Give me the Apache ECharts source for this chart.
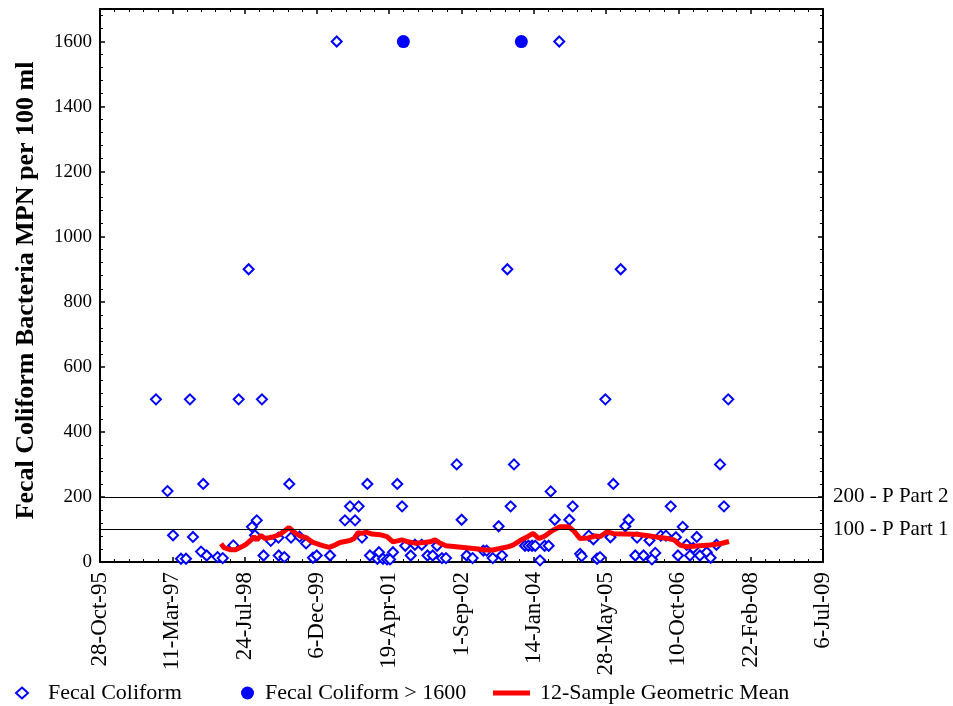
<!DOCTYPE html>
<html><head><meta charset="utf-8">
<script src="https://cdn.jsdelivr.net/npm/echarts@6/dist/echarts.min.js"></script>
<style>html,body{margin:0;padding:0;background:#fff}#c{width:953px;height:706px}</style>
</head><body><div id="c"></div><script>
// ---------- data ----------
const startDate = '1995-10-28';
const xTickLabels = ['28-Oct-95','11-Mar-97','24-Jul-98','6-Dec-99','19-Apr-01','1-Sep-02','14-Jan-04','28-May-05','10-Oct-06','22-Feb-08','6-Jul-09'];
const yTickValues = [0,200,400,600,800,1000,1200,1400,1600];

const fcDates = ['1996-11-18','1997-02-06','1997-03-16','1997-05-10','1997-06-14','1997-07-11','1997-08-01','1997-09-26','1997-10-11','1997-11-04',
'1998-01-18','1998-02-23','1998-05-07','1998-06-13','1998-08-21','1998-09-13','1998-10-04','1998-10-16','1998-11-21','1998-12-02',
'1999-01-21','1999-03-15','1999-03-17','1999-04-25','1999-05-29','1999-06-10','1999-08-08','1999-09-22','1999-11-09','1999-12-05',
'2000-03-06','2000-04-21','2000-06-17','2000-07-22','2000-08-26','2000-09-20','2000-10-13','2000-11-19','2000-12-07',
'2001-01-27','2001-02-07','2001-03-07','2001-04-04','2001-04-25','2001-05-15','2001-06-14','2001-07-17','2001-08-08','2001-09-15','2001-10-14','2001-11-30',
'2002-01-09','2002-02-14','2002-03-16','2002-04-19','2002-05-17','2002-07-30','2002-09-02','2002-10-07','2002-11-17',
'2003-01-30','2003-02-22','2003-04-05','2003-05-16','2003-06-08','2003-07-15','2003-08-07','2003-08-30','2003-11-14','2003-12-08',
'2004-01-02','2004-01-24','2004-02-26','2004-03-29','2004-04-26','2004-05-10','2004-06-07','2004-07-08','2004-09-16','2004-10-09','2004-11-29','2004-12-10',
'2005-01-28','2005-03-01','2005-03-26','2005-04-16','2005-05-23','2005-06-27','2005-07-17','2005-09-06','2005-10-08','2005-10-31','2005-12-16','2005-12-28',
'2006-02-11','2006-03-24','2006-04-10','2006-05-03','2006-06-10','2006-07-16','2006-08-18','2006-09-23','2006-10-07','2006-11-09','2006-12-06','2006-12-29',
'2007-01-21','2007-02-14','2007-03-08','2007-04-24','2007-05-21','2007-06-30','2007-07-25','2007-08-21','2007-09-20'];
const fcValues = [500,218,82,10,10,500,77,32,240,20,
15,12,51,500,900,108,82,128,500,20,
65,75,20,15,240,75,78,57,13,20,
20,1600,128,171,128,171,75,240,20,
10,30,10,8,8,30,240,171,50,20,53,53,
20,20,50,12,12,300,130,20,12,
35,35,12,110,20,900,171,300,50,50,
50,50,5,50,50,217,130,1600,130,171,25,18,
81,70,10,15,500,76,240,900,110,130,20,75,
20,66,8,28,81,81,171,76,20,108,53,20,
43,77,20,30,13,53,300,171,500];

const highDates = ['2001-07-26','2003-10-20'];
const highValues = [1600,1600];

const gmDates = ['1998-02-11','1998-03-04','1998-04-14','1998-05-26','1998-07-27','1998-09-13','1998-09-27','1998-10-18','1998-11-14','1998-12-12',
'1999-01-30','1999-03-26','1999-05-27','1999-07-01','1999-08-11','1999-09-22','1999-11-09','2000-01-03','2000-02-28','2000-04-09',
'2000-05-14','2000-07-22','2000-08-19','2000-09-15','2000-10-13','2000-11-10','2000-12-21','2001-02-14','2001-04-04','2001-05-15',
'2001-07-17','2001-08-27','2001-10-14','2001-12-16','2002-01-26','2002-03-02','2002-04-05','2002-05-17','2002-07-25','2002-10-02',
'2002-12-24','2003-02-17','2003-04-07','2003-05-25','2003-07-13','2003-08-23','2003-10-11','2003-11-21','2004-01-09','2004-02-19',
'2004-03-31','2004-05-19','2004-07-13','2004-09-13','2004-10-18','2004-11-29','2005-01-23','2005-03-19','2005-04-16','2005-05-13',
'2005-06-03','2005-07-17','2005-10-06','2005-12-28','2006-03-27','2006-06-05','2006-07-30','2006-09-10','2006-10-21','2006-12-09',
'2007-03-08','2007-05-17','2007-07-25','2007-09-25'];
const gmValues = [56,44,38,38,52,70,78,68,82,72,
76,85,106,92,80,75,60,52,45,52,
60,66,72,90,88,92,86,84,78,62,
68,62,58,60,62,68,58,50,47,44,
40,37,37,42,46,52,66,75,88,72,
80,96,108,108,95,72,74,80,78,86,
93,87,86,85,80,75,72,68,52,47,
50,52,56,63];

const refValues = [200, 100];
const refLabels = ['200 - P Part 2', '100 - P Part 1'];

// ---------- helpers ----------
function utc(s){ const p = s.split('-').map(Number); return Date.UTC(p[0], p[1]-1, p[2]); }
const t0 = utc(startDate);
function dayOf(s){ return Math.round((utc(s) - t0) / 86400000); }
function pairs(dates, vals){ return dates.map((d,i) => [dayOf(d), vals[i]]); }

const FONT = 'Liberation Serif';
const xMax = (xTickLabels.length - 1) * 500;

const tickCommon = { show:true, inside:true, length:5, lineStyle:{color:'#000', width:1.5} };
const minorCommon = { show:true, splitNumber:5, length:3, lineStyle:{color:'#000', width:1} };
const legendText = {color:'#000', fontFamily:FONT, fontSize:22};

const chart = echarts.init(document.getElementById('c'), null, {renderer:'canvas'});
chart.setOption({
  animation:false,
  backgroundColor:'#fff',
  grid:{left:100, right:130, top:9, bottom:144, containLabel:false},
  xAxis:[{
    type:'value', min:0, max:xMax, interval:500, position:'bottom',
    axisLine:{show:true, onZero:false, lineStyle:{color:'#000', width:2}},
    axisTick:tickCommon, minorTick:minorCommon, splitLine:{show:false},
    axisLabel:{rotate:90, margin:10, color:'#000', fontFamily:FONT, fontSize:23,
      formatter:v => xTickLabels[Math.round(v/500)] || ''}
  },{
    type:'value', min:0, max:xMax, interval:500, position:'top',
    axisLine:{show:true, onZero:false, lineStyle:{color:'#000', width:2}},
    axisTick:tickCommon, minorTick:minorCommon, splitLine:{show:false}, axisLabel:{show:false}
  }],
  yAxis:[{
    type:'value', min:0, max:1700, interval:200, position:'left',
    name:'Fecal Coliform Bacteria MPN per 100 ml', nameLocation:'middle', nameGap:61,
    nameTextStyle:{color:'#000', fontFamily:FONT, fontSize:26, fontWeight:'bold', padding:[0,10,0,0]},
    axisLine:{show:true, onZero:false, lineStyle:{color:'#000', width:2}},
    axisTick:tickCommon, minorTick:minorCommon, splitLine:{show:false},
    axisLabel:{margin:8, color:'#000', fontFamily:FONT, fontSize:19, showMaxLabel:false,
      formatter:v => yTickValues.indexOf(v) >= 0 ? String(v) : ''}
  },{
    type:'value', min:0, max:1700, interval:200, position:'right',
    axisLine:{show:true, onZero:false, lineStyle:{color:'#000', width:2}},
    axisTick:tickCommon, minorTick:minorCommon, splitLine:{show:false}, axisLabel:{show:false}
  }],
  legend:[
    {data:[{name:'Fecal Coliform', icon:'emptyDiamond'}], left:10, top:677, itemWidth:12, itemHeight:11,
      textStyle:Object.assign({padding:[0,0,0,15]}, legendText)},
    {data:[{name:'Fecal Coliform > 1600', icon:'circle'}], left:236, top:677, itemWidth:13, itemHeight:13,
      textStyle:Object.assign({padding:[0,0,0,6]}, legendText)},
    {data:[{name:'12-Sample Geometric Mean', icon:'rect'}], left:488, top:677, itemWidth:37, itemHeight:5,
      textStyle:Object.assign({padding:[0,0,0,5]}, legendText)}
  ],
  series:[
    {name:'Fecal Coliform', type:'scatter', symbol:'emptyDiamond', symbolSize:10,
      itemStyle:{color:'#0000ff', borderWidth:1.2, opacity:1}, data:pairs(fcDates, fcValues), z:2},
    {name:'Fecal Coliform > 1600', type:'scatter', symbol:'circle', symbolSize:13,
      itemStyle:{color:'#0000ff', opacity:1}, data:pairs(highDates, highValues), z:3},
    {name:'12-Sample Geometric Mean', type:'line', symbol:'none', showSymbol:false,
      lineStyle:{color:'#ff0000', width:5}, itemStyle:{color:'#ff0000'},
      data:pairs(gmDates, gmValues), z:4,
      markLine:{silent:true, symbol:'none', animation:false,
        lineStyle:{color:'#000', width:1, type:'solid'},
        label:{show:true, position:'end', distance:10, color:'#000', fontFamily:FONT, fontSize:21,
          formatter:p => refLabels[refValues.indexOf(p.value)]},
        emphasis:{disabled:true},
        data:refValues.map(v => ({yAxis:v}))}
    }
  ]
});
</script></body></html>
